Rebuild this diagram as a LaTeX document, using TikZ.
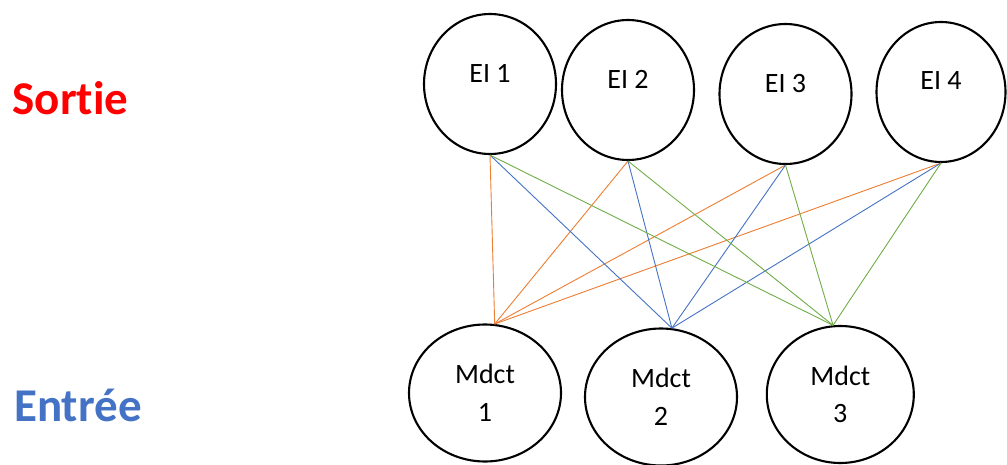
\documentclass[tikz,border=0pt]{standalone}
\usepackage{fontspec}
\setmainfont{Carlito}[RawFeature={-liga;-clig;-dlig}]
\usepackage{tikz}
\usetikzlibrary{shapes.geometric}
\definecolor{linkorange}{HTML}{ED7D31}
\definecolor{linkblue}{HTML}{4472C4}
\definecolor{linkgreen}{HTML}{70AD47}
\begin{document}
\begin{tikzpicture}[x=1pt,y=-1pt,
    unit/.style={ellipse,draw,line width=2.1pt,inner sep=0pt,align=center,font=\fontsize{28}{37.5}\selectfont},
    eiunit/.style={unit,minimum width=132pt,minimum height=140pt,text depth=22pt},
    mdunit/.style={unit,minimum width=152pt,minimum height=137pt},
    layer/.style={anchor=base west,inner sep=0pt,font=\bfseries\fontsize{47}{56}\selectfont},
    link/.style={line width=0.9pt}]
    \useasboundingbox (0,0) rectangle (1007,465);
    \node (sortie) at (12.5,115) [layer,text=red] {Sortie};
    \node (entree) at (14,421.7) [layer,text=linkblue] {Entrée};
    \node (e1) at (490,84) [eiunit] {EI 1};
    \node (e2) at (628,90) [eiunit] {EI 2};
    \node (e3) at (785.5,94) [eiunit] {EI 3};
    \node (e4) at (941,92) [eiunit,minimum width=129pt] {EI 4};
    \node (m1) at (485,393) [mdunit] {Mdct\\1};
    \node (m2) at (661,397) [mdunit] {Mdct\\2};
    \node (m3) at (840.3,394.5) [mdunit,minimum width=147pt] {Mdct\\3};
    \draw [link,linkorange] (e1.south) -- (m1.82);
    \draw [link,linkorange] (e2.south) -- (m1.82);
    \draw [link,linkorange] (e3.south) -- (m1.82);
    \draw [link,linkorange] (e4.south) -- (m1.82);
    \draw [link,linkblue] (e1.south) -- (m2.81);
    \draw [link,linkblue] (e2.south) -- (m2.81);
    \draw [link,linkblue] (e3.south) -- (m2.81);
    \draw [link,linkblue] (e4.south) -- (m2.81);
    \draw [link,linkgreen] (e1.south) -- (m3.96);
    \draw [link,linkgreen] (e2.south) -- (m3.96);
    \draw [link,linkgreen] (e3.south) -- (m3.96);
    \draw [link,linkgreen] (e4.south) -- (m3.96);
\end{tikzpicture}
\end{document}
